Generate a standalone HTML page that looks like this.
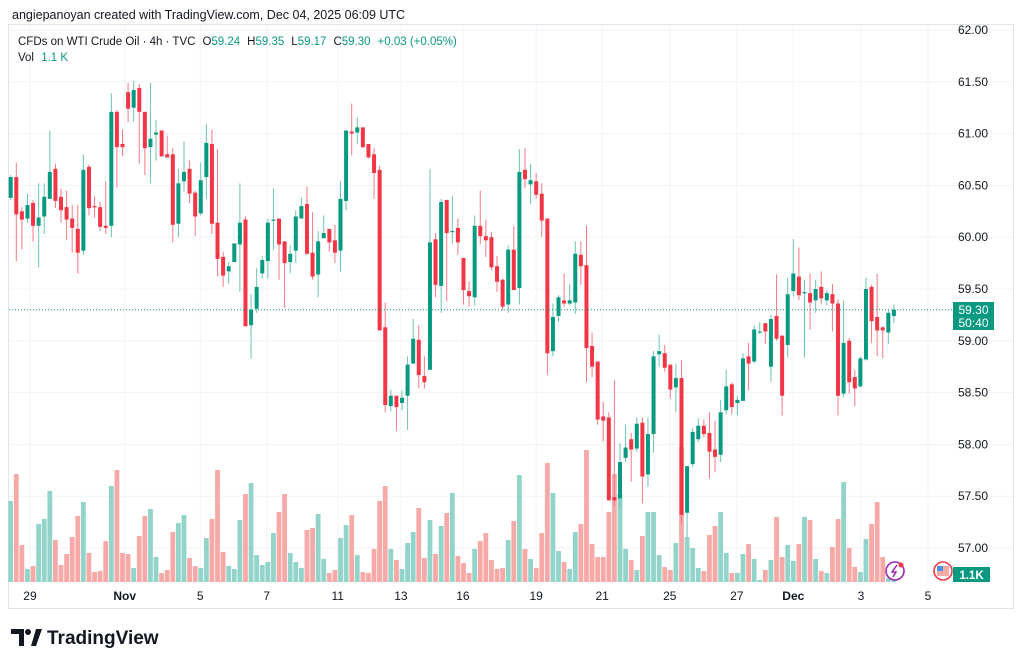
<!DOCTYPE html>
<html><head><meta charset="utf-8"><style>
html,body{margin:0;padding:0;background:#fff;width:1024px;height:665px;overflow:hidden;font-family:"Liberation Sans",sans-serif}
svg{position:absolute;left:0;top:0}
</style></head><body>
<svg id="chart" width="1024" height="665" xmlns="http://www.w3.org/2000/svg">
<text x="12" y="19" font-size="12.5" fill="#131722">angiepanoyan created with TradingView.com, Dec 04, 2025 06:09 UTC</text>
<rect x="8.5" y="24.5" width="1005" height="584" fill="none" stroke="#e0e3eb"/>
<g id="grid"></g>
<g id="vol"></g>
<g id="candles"></g>
<g id="axes"></g>
<text x="18" y="45" font-size="11.5" fill="#131722">CFDs on WTI Crude Oil · 4h · TVC<tspan dx="7">O</tspan><tspan fill="#089981">59.24</tspan><tspan dx="7">H</tspan><tspan fill="#089981">59.35</tspan><tspan dx="7">L</tspan><tspan fill="#089981">59.17</tspan><tspan dx="7">C</tspan><tspan fill="#089981">59.30</tspan><tspan fill="#089981" dx="7">+0.03 (+0.05%)</tspan></text>
<text x="18" y="61" font-size="11.5" fill="#131722">Vol <tspan fill="#089981" dx="4">1.1 K</tspan></text>
<g><circle cx="895" cy="571" r="9" fill="#fff" stroke="#9c27b0" stroke-width="1.6"/><path d="M897 565 L892 572 L896 572 L893 577" stroke="#9c27b0" stroke-width="1.5" fill="none"/><circle cx="901" cy="565" r="2.5" fill="#f23645"/></g>
<g><circle cx="943" cy="571" r="9" fill="#fff" stroke="#f23645" stroke-width="1.6"/><rect x="937" y="566" width="12" height="10" fill="#f7a9a7"/><rect x="937" y="566" width="6" height="5" fill="#4a90e2"/></g>
<g><rect x="953" y="302" width="41" height="28" fill="#089981"/><text x="973.5" y="314" font-size="12" fill="#fff" text-anchor="middle">59.30</text><text x="973.5" y="327" font-size="12" fill="#fff" text-anchor="middle">50:40</text></g>
<g><rect x="953" y="567" width="37" height="15" fill="#089981"/><text x="971.5" y="579" font-size="11.5" fill="#fff" text-anchor="middle" font-weight="bold">1.1K</text></g>
<g><path d="M11 629 H24 V646 H19 V634 H11 Z" fill="#131722"/><circle cx="28" cy="632" r="3" fill="#131722"/><path d="M31 646 L36 629 H42 L36 646 Z" fill="#131722"/><text x="47" y="644" font-size="19" font-weight="bold" fill="#131722">TradingView</text></g>
</svg>
<script>
const opens=[60.38,60.58,60.25,60.18,60.33,60.11,60.20,60.37,60.66,60.39,60.29,60.18,60.08,59.87,60.68,60.30,60.29,60.11,60.11,61.21,60.90,61.40,61.25,61.44,61.21,60.87,60.99,61.03,60.80,60.80,60.13,60.54,60.66,60.43,60.23,60.58,60.90,60.14,59.81,59.67,59.76,59.93,60.17,59.15,59.31,59.65,59.77,60.16,60.18,59.96,59.76,59.87,60.18,60.32,59.85,59.64,59.99,60.08,59.97,59.87,60.35,61.02,61.01,61.06,60.90,60.80,60.65,59.13,58.37,58.47,58.40,58.47,58.78,59.01,58.66,58.72,59.98,59.53,60.36,60.06,60.09,59.80,59.48,59.42,60.11,60.01,60.00,59.72,59.59,59.35,59.88,59.51,60.65,60.51,60.54,60.42,60.18,58.90,59.24,59.39,59.36,59.37,59.83,59.73,58.95,58.80,58.27,58.26,57.49,57.48,57.87,58.05,57.96,58.21,57.71,58.10,58.87,58.88,58.77,58.55,58.64,57.34,57.81,58.05,58.18,58.11,57.95,57.90,58.33,58.58,58.40,58.42,58.85,58.80,59.08,59.17,58.75,59.24,59.05,58.96,59.48,59.62,59.47,59.46,59.39,59.52,59.39,59.45,59.36,58.49,59.00,58.65,58.56,58.82,59.52,59.23,59.13,59.08,59.24];
const closes=[60.58,60.22,60.17,60.31,60.11,60.19,60.39,60.63,60.35,60.26,60.17,60.09,59.85,60.65,60.28,60.29,60.10,60.09,61.21,60.87,60.87,61.24,61.42,61.21,60.86,60.95,61.01,60.78,60.77,60.12,60.52,60.63,60.42,60.20,60.55,60.91,60.13,59.79,59.63,59.72,59.94,60.14,59.14,59.30,59.52,59.78,60.14,60.17,59.93,59.75,59.84,60.20,60.30,59.84,59.62,59.96,60.04,59.95,59.85,60.37,61.03,61.00,61.06,60.87,60.77,60.62,59.10,58.38,58.47,58.36,58.45,58.77,59.02,58.67,58.60,59.95,59.54,60.34,60.04,60.06,59.95,59.49,59.43,60.11,60.01,59.97,59.71,59.57,59.33,59.88,59.49,60.63,60.56,60.55,60.41,60.16,58.88,59.23,59.42,59.36,59.39,59.84,59.72,58.93,58.75,58.24,58.23,57.46,57.46,57.83,57.97,57.95,58.20,57.69,58.10,58.85,58.90,58.74,58.53,58.64,57.32,57.79,58.12,58.18,58.10,57.93,57.88,58.31,58.56,58.36,58.43,58.83,58.78,59.11,59.09,59.09,59.21,59.02,58.47,59.45,59.65,59.44,59.47,59.37,59.50,59.41,59.46,59.36,58.47,58.98,58.60,58.54,58.83,59.50,59.19,59.10,59.10,59.27,59.30];
const highs=[60.60,60.72,60.29,60.42,60.36,60.52,60.52,61.03,60.71,60.47,60.45,60.31,60.31,60.80,60.70,60.40,60.34,60.54,61.39,61.23,61.04,61.49,61.51,61.48,61.21,61.49,61.13,61.03,60.98,60.86,60.66,60.92,60.74,60.45,60.72,61.09,61.04,60.85,59.86,59.76,59.94,60.52,60.20,59.45,59.70,59.82,60.18,60.47,60.18,59.96,59.92,60.26,60.38,60.49,60.24,60.06,60.21,60.08,60.12,60.54,61.03,61.29,61.16,61.06,60.90,60.86,60.69,59.37,58.53,58.47,58.52,58.85,59.21,59.15,58.85,60.66,60.04,60.37,60.36,60.40,60.18,59.80,59.57,60.21,60.45,60.17,60.05,59.82,59.60,59.92,60.11,60.85,60.86,60.71,60.62,60.52,60.18,59.36,59.44,59.65,59.55,59.96,59.96,60.11,59.08,58.80,58.41,58.31,58.62,58.01,58.19,58.11,58.26,58.26,58.26,58.90,59.06,58.96,58.77,58.78,58.81,57.79,58.16,58.25,58.24,58.31,58.23,58.43,58.72,58.60,58.47,58.88,58.98,59.15,59.18,59.17,59.25,59.64,59.05,59.61,59.98,59.90,59.59,59.65,59.59,59.67,59.49,59.55,59.40,59.39,59.03,58.72,58.85,59.61,59.54,59.65,59.14,59.30,59.35];
const lows=[60.36,59.77,59.88,60.14,59.96,59.71,60.03,60.37,60.28,60.14,59.97,59.85,59.65,59.83,60.21,60.19,60.06,60.03,60.00,60.48,60.78,61.11,61.11,60.71,60.60,60.52,60.74,60.78,60.77,59.95,60.00,60.44,60.33,60.01,60.21,60.37,60.03,59.62,59.52,59.55,59.77,59.47,59.14,58.83,59.27,59.60,59.60,59.88,59.59,59.32,59.65,59.75,60.18,59.83,59.59,59.42,59.99,59.86,59.75,59.67,60.26,60.79,60.90,60.86,60.76,60.37,59.10,58.31,58.32,58.13,58.33,58.14,58.78,58.54,58.54,58.72,59.42,59.27,59.38,59.94,59.83,59.35,59.33,59.34,59.93,59.81,59.68,59.47,59.29,59.27,59.49,59.35,60.47,60.32,60.37,60.00,58.67,58.85,59.18,59.33,59.34,59.26,59.54,58.60,58.65,58.19,58.03,57.46,57.40,57.40,57.83,57.64,57.93,57.43,57.59,57.92,58.75,58.70,58.44,58.31,57.23,57.10,57.78,58.02,58.07,57.67,57.73,57.83,58.29,58.29,58.28,58.42,58.52,58.78,59.07,58.97,58.60,59.00,58.28,58.84,59.43,59.39,58.84,59.11,59.27,59.35,59.34,59.09,58.28,58.46,58.49,58.37,58.55,58.81,58.98,58.85,58.83,58.97,59.17];
const volumes=[81,108,37,13,16,58,63,91,42,17,28,45,66,80,29,10,11,41,96,112,29,28,14,46,66,73,25,9,12,50,59,67,24,16,14,44,63,112,30,16,13,62,88,99,27,17,20,49,70,88,29,20,14,52,54,68,23,9,12,44,57,67,27,10,9,33,81,96,33,22,13,39,50,74,24,62,28,56,69,89,26,19,9,33,41,49,22,13,14,42,61,107,33,23,14,49,119,89,31,20,13,50,58,132,38,25,25,70,108,88,33,22,12,46,70,70,27,15,12,39,135,45,34,14,11,47,56,70,29,9,9,28,38,23,2,12,22,65,25,37,21,38,65,62,23,11,9,35,63,100,34,15,10,43,58,80,25,4,3];
const priceTicks=["62.00","61.50","61.00","60.50","60.00","59.50","59.00","58.50","58.00","57.50","57.00"];
const dateLabels=["29","Nov","5","7","11","13","16","19","21","25","27","Dec","3","5"];
const dateIndex=[3.45,20.4,33.9,45.8,58.5,69.8,80.9,94,105.8,117.9,129.9,140,152.1,164.1];
const lastPrice=59.30;

const NS="http://www.w3.org/2000/svg";
const yP=p=>30+(62-p)*103.6;
const xI=i=>10.7+i*5.59;
const yV=v=>582-v;
function mk(tag,attrs,parent){const e=document.createElementNS(NS,tag);for(const k in attrs)e.setAttribute(k,attrs[k]);parent.appendChild(e);return e;}
const grid=document.getElementById('grid'),axes=document.getElementById('axes'),vol=document.getElementById('vol'),cg=document.getElementById('candles');
priceTicks.forEach(t=>{const y=yP(parseFloat(t));
 const l=mk('line',{x1:9,x2:1013,y1:y,y2:y,stroke:'#f2f3f5'},grid);
 
 
 const tx=mk('text',{x:958,y:y+4,'font-size':12,fill:'#131722'},axes);tx.textContent=t;
 
 
});
dateLabels.forEach((d,k)=>{const x=xI(dateIndex[k]);
 const l=mk('line',{x1:x,x2:x,y1:25,y2:583,stroke:'#f2f3f5'},grid);
 
 
 const tx=mk('text',{x:x,y:600,'font-size':12,fill:'#131722','text-anchor':'middle','font-weight':(d==='Nov'||d==='Dec')?'bold':'normal'},axes);tx.textContent=d;
 
 
});
const lp=mk('line',{x1:9,x2:953,y1:yP(lastPrice),y2:yP(lastPrice),stroke:'#089981','stroke-dasharray':'1 2','stroke-width':1},axes);


volumes.forEach((v,i)=>{const up=closes[i]>=opens[i];
 const r=mk('rect',{x:xI(i)-2.4,y:yV(v),width:4.8,height:v,fill:up?'#92d4c9':'#f7a9a8'},vol);
 
 
});
opens.forEach((o,i)=>{const c=closes[i],up=c>=o,col=up?'#089981':'#f23645',x=xI(i);
 const w=mk('line',{x1:x,x2:x,y1:yP(highs[i]),y2:yP(lows[i]),stroke:up?'#6cc3b4':'#f47a84','stroke-width':1},cg);
 
 
 const top=yP(Math.max(o,c)),bot=yP(Math.min(o,c));
 const b=mk('rect',{x:x-2,y:top,width:4,height:Math.max(1.2,bot-top),fill:col},cg);
 
 
});
</script>
</body></html>
